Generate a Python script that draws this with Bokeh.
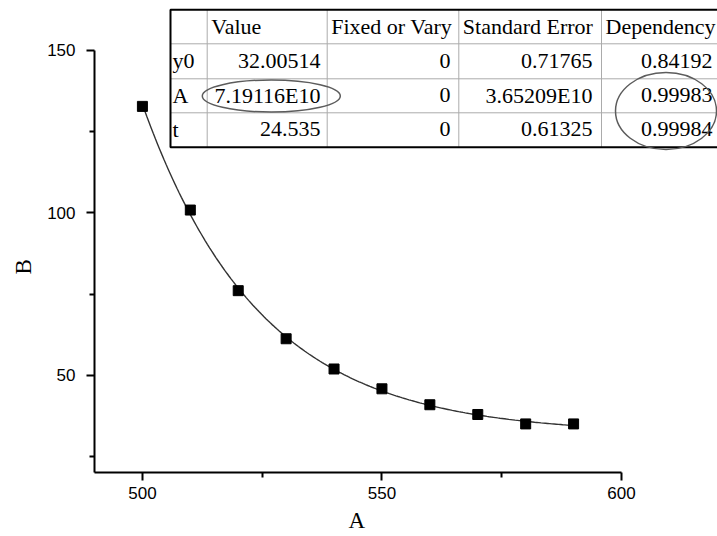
import math

from bokeh.core.properties import value
from bokeh.embed import file_html
from bokeh.models import FixedTicker, Range1d, Title
from bokeh.plotting import figure
from bokeh.resources import INLINE

# Measured data points
a_values = [500, 510, 520, 530, 540, 550, 560, 570, 580, 590]
b_values = [132.8, 100.9, 76.1, 61.3, 52.0, 45.9, 41.0, 38.0, 35.1, 35.1]

# Fit report (ExpDec1: y = y0 + A*exp(-x/t))
param_names = ["y0", "A", "t"]
col_headers = ["Value", "Fixed or Vary", "Standard Error", "Dependency"]
fit_value = ["32.00514", "7.19116E10", "24.535"]
fit_fixed = ["0", "0", "0"]
fit_stderr = ["0.71765", "3.65209E10", "0.61325"]
fit_dependency = ["0.84192", "0.99983", "0.99984"]

x_ticks = [500, 550, 600]
x_minor = [525, 575]
y_ticks = [50, 100, 150]
y_minor = [25, 75, 125]

# Fitted curve from the reported parameters
y0, amp, tau = (float(s) for s in fit_value)
n = 200
curve_x = [a_values[0] + (a_values[-1] - a_values[0]) * i / (n - 1) for i in range(n)]
curve_y = [y0 + amp * math.exp(-xv / tau) for xv in curve_x]

p = figure(
    width=717, height=536,
    output_backend="svg", toolbar_location=None,
    x_range=Range1d(490, 620.04), y_range=Range1d(20.15, 165.38),
    min_border_left=94, min_border_right=0, min_border_top=0, min_border_bottom=64,
    background_fill_color="white", border_fill_color="white",
)
p.outline_line_color = None
p.xgrid.visible = False
p.ygrid.visible = False

# pixel-like coordinate system for the report table
p.extra_x_ranges = {"px": Range1d(94, 717)}
p.extra_y_ranges = {"px": Range1d(472, 0)}

for ax in (p.xaxis[0], p.yaxis[0]):
    ax.axis_line_width = 2
    ax.axis_line_color = "black"
    ax.major_tick_line_width = 2
    ax.minor_tick_line_width = 2
    ax.major_tick_out = 8
    ax.major_tick_in = 0
    ax.minor_tick_out = 5
    ax.minor_tick_in = 0
    ax.major_label_text_font = "Liberation Sans"
    ax.major_label_text_font_size = "17px"
    ax.major_label_text_color = "black"

p.xaxis[0].ticker = FixedTicker(ticks=x_ticks, minor_ticks=x_minor)
p.yaxis[0].ticker = FixedTicker(ticks=y_ticks, minor_ticks=y_minor)
p.xaxis[0].bounds = (490, 600)
p.yaxis[0].bounds = (20.15, 150)
p.xaxis[0].major_label_standoff = 6
p.yaxis[0].major_label_standoff = 11

# axis titles, placed under the middle of the bounded axis lines
p.add_layout(Title(text="A", align="left", offset=254, standoff=8,
                   text_font="Liberation Serif", text_font_size="23px",
                   text_font_style="normal", text_color="black"), "below")
p.add_layout(Title(text="B", align="left", offset=198, standoff=17,
                   text_font="Liberation Serif", text_font_size="23px",
                   text_font_style="normal", text_color="black"), "left")

# fitted curve and data
p.line(curve_x, curve_y, line_color="#333333", line_width=1.4)
p.scatter(a_values, b_values, marker="square", size=10,
          fill_color="black", line_color="black")

# ---- report table ----
tbl_left, tbl_right, tbl_top, tbl_bottom = 170, 730, 9.3, 146.7
row_lines = [43.3, 78.3, 112.3]
col_lines = [206.7, 326.7, 458.3, 601]
row_centers = [60.0, 94.5, 128.5]
kw = dict(x_range_name="px", y_range_name="px")

p.quad(left=[tbl_left], right=[tbl_right], top=[tbl_top], bottom=[tbl_bottom],
       fill_color="white", line_color=None, **kw)
p.segment(x0=[tbl_left] * 3, x1=[tbl_right] * 3, y0=row_lines, y1=row_lines,
          line_color="#ababab", line_width=1, **kw)
p.segment(x0=col_lines, x1=col_lines, y0=[tbl_top] * 4, y1=[tbl_bottom] * 4,
          line_color="#ababab", line_width=1, **kw)
p.quad(left=[tbl_left], right=[tbl_right], top=[tbl_top], bottom=[tbl_bottom],
       fill_color=None, line_color="black", line_width=2, **kw)

font = value("Liberation Serif")
fs = "22px"
p.text(x=[c + 4 for c in col_lines], y=[25.5] * 4, text=col_headers,
       text_font=font, text_font_size=fs, text_color="black",
       text_align="left", text_baseline="middle", **kw)
p.text(x=[172] * 3, y=row_centers, text=param_names,
       text_font=font, text_font_size=fs, text_color="black",
       text_align="left", text_baseline="middle", **kw)
right_edges = [320, 450, 592, 712]
for edge, column in zip(right_edges, [fit_value, fit_fixed, fit_stderr, fit_dependency]):
    p.text(x=[edge] * 3, y=row_centers, text=column,
           text_font=font, text_font_size=fs, text_color="black",
           text_align="right", text_baseline="middle", **kw)

# highlight rings
p.ellipse(x=[270.8, 665.5], y=[95.5, 110.5], width=[138, 101], height=[32, 77],
          fill_color=None, line_color="#5c5c5c", line_width=1.5, **kw)

open("out.html", "w").write(file_html(p, INLINE))
